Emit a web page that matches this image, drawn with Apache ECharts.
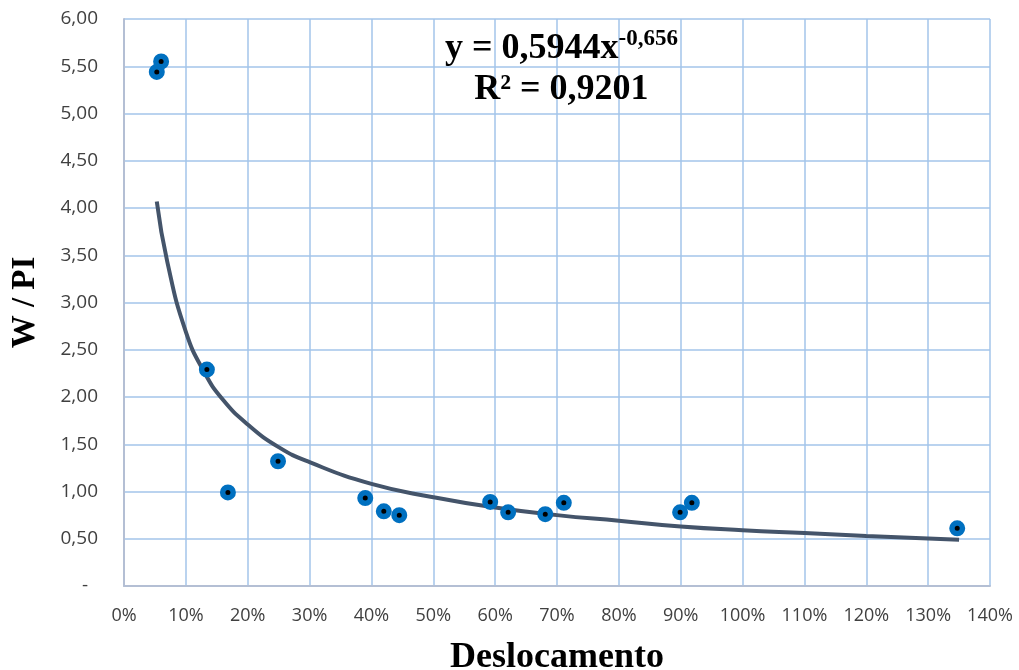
<!DOCTYPE html>
<html>
<head>
<meta charset="utf-8">
<script src="https://cdn.jsdelivr.net/npm/echarts@6/dist/echarts.min.js"></script>
<style>
  html, body { margin: 0; padding: 0; background: #fff; }
  #chart { width: 1019px; height: 670px; }
</style>
</head>
<body>
<div id="chart"></div>
<script>
// deslocamento (%) vs W / PI
var deslocamento = [5.3, 6.0, 13.4, 16.8, 24.9, 39.0, 42.0, 44.5, 59.2, 62.1, 68.1, 71.1, 89.9, 91.8, 134.7];
var wPi = [5.44, 5.55, 2.29, 0.99, 1.32, 0.93, 0.79, 0.75, 0.89, 0.78, 0.76, 0.88, 0.78, 0.88, 0.61];

// linha de tendência (potência)
var trendX = [5.3, 7, 10, 13, 16, 20, 25, 30, 40, 50, 60, 70, 80, 90, 100, 110, 120, 135];
var trendY = [4.07, 3.43, 2.69, 2.26, 1.97, 1.71, 1.47, 1.31, 1.08, 0.94, 0.83, 0.75, 0.69, 0.63, 0.59, 0.56, 0.53, 0.49];

var chart = echarts.init(document.getElementById('chart'));
var gridColor = '#a3c5ea';
var labelColor = '#404040';

chart.setOption({
    animation: false,
    grid: { left: 124, right: 29, top: 19, bottom: 84, outerBoundsMode: 'none', containLabel: false },
    xAxis: {
        type: 'value',
        min: 0, max: 140, interval: 10,
        name: 'Deslocamento',
        nameLocation: 'middle',
        nameGap: 54,
        nameTextStyle: { fontFamily: 'Liberation Serif', fontWeight: 'bold', fontSize: 36, color: '#000' },
        axisLine: { lineStyle: { color: '#b4bfd4', width: 2 } },
        axisTick: { show: false },
        axisLabel: {
            margin: 21,
            fontFamily: 'Open Sans', fontSize: 18, color: labelColor,
            formatter: function (v) { return v + '%'; }
        },
        splitLine: { show: true, lineStyle: { color: gridColor, width: 1.5 } }
    },
    yAxis: {
        type: 'value',
        min: 0, max: 6, interval: 0.5,
        name: 'W / PI',
        nameLocation: 'middle',
        nameGap: 82,
        nameTextStyle: { fontFamily: 'Liberation Serif', fontWeight: 'bold', fontSize: 33, color: '#000' },
        axisLine: { show: true, lineStyle: { color: '#b4bfd4', width: 2 } },
        axisTick: { show: false },
        axisLabel: {
            margin: 26,
            fontFamily: 'Open Sans', fontSize: 19, color: labelColor,
            formatter: function (v) { return v === 0 ? '-  ' : v.toFixed(2).replace('.', ','); }
        },
        splitLine: { show: true, lineStyle: { color: gridColor, width: 1.5 } }
    },
    graphic: [{
        type: 'text',
        left: 445, top: 28,
        z: 100,
        style: {
            text: '{a|y = 0,5944x}{b|-0,656}\n{a|R² = 0,9201}',
            align: 'center',
            rich: {
                a: { fontFamily: 'Liberation Serif', fontWeight: 'bold', fontSize: 36, color: '#000', lineHeight: 41, align: 'center' },
                b: { fontFamily: 'Liberation Serif', fontWeight: 'bold', fontSize: 23, color: '#000', verticalAlign: 'top', align: 'center' }
            }
        }
    }],
    series: [{
        type: 'line',
        data: trendX.map(function (x, i) { return [x, trendY[i]]; }),
        smooth: true,
        symbol: 'none',
        lineStyle: { color: '#44546a', width: 4 },
        z: 2
    }, {
        type: 'scatter',
        data: deslocamento.map(function (x, i) { return [x, wPi[i]]; }),
        symbol: 'circle',
        symbolSize: 10.5,
        itemStyle: { color: '#000', borderColor: '#0070c0', borderWidth: 5.5, opacity: 1 },
        z: 3
    }]
});
</script>
</body>
</html>
